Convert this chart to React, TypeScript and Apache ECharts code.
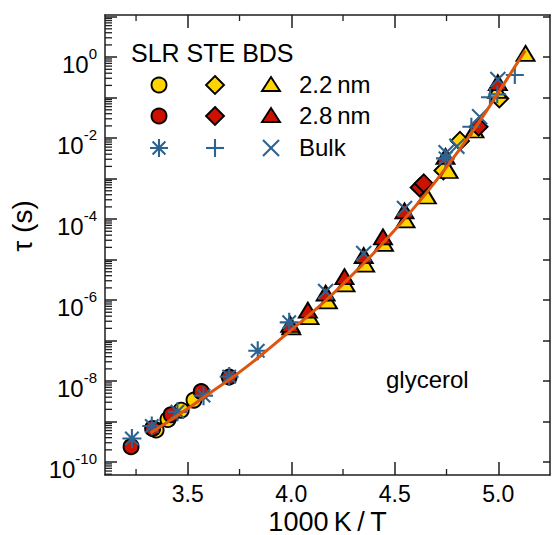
import React, { useEffect, useRef } from 'react';
import * as echarts from 'echarts';

// ---------- data (x = 1000 K / T, values = log10(tau / s)) ----------
const slr22X = [3.347, 3.404, 3.468, 3.53];
const slr22LogTau = [-9.21, -8.95, -8.72, -8.47];

const slr28X = [3.226, 3.33, 3.42, 3.565, 3.70];
const slr28LogTau = [-9.62, -9.17, -8.83, -8.26, -7.90];

const slrBulkX = [3.23, 3.326, 3.45, 3.576, 3.70, 3.838, 3.99, 4.745];
const slrBulkLogTau = [-9.42, -9.11, -8.76, -8.36, -7.89, -7.25, -6.55, -2.50];

const ste22X = [4.735, 4.815, 5.005];
const ste22LogTau = [-2.80, -2.07, -1.02];

const ste28X = [4.62, 4.64, 4.905];
const ste28LogTau = [-3.22, -3.12, -1.72];

const steBulkX = [4.87, 4.96, 4.995, 5.08];
const steBulkLogTau = [-1.72, -0.99, -0.92, -0.44];

const bds22X = [4.0, 4.088, 4.177, 4.262, 4.357, 4.448, 4.552, 4.655, 4.76, 4.885, 4.995, 5.132];
const bds22LogTau = [-6.66, -6.41, -6.02, -5.60, -5.11, -4.60, -4.02, -3.43, -2.80, -1.80, -0.82, 0.09];

const bds28X = [3.995, 4.08, 4.166, 4.257, 4.35, 4.443, 4.547, 4.745, 4.998];
const bds28LogTau = [-6.60, -6.25, -5.83, -5.42, -4.90, -4.44, -3.80, -2.45, -0.63];

const bdsBulkX = [4.166, 4.35, 4.547, 4.748, 4.80, 4.91, 4.998];
const bdsBulkLogTau = [-5.79, -4.85, -3.74, -2.36, -2.20, -1.47, -0.55];

const fitX = [3.32, 3.45, 3.6, 3.75, 3.9, 4.0, 4.1, 4.2, 4.3, 4.4, 4.5, 4.6, 4.7, 4.8, 4.9, 5.0, 5.13];
const fitLogTau = [-9.28, -8.85, -8.32, -7.78, -7.17, -6.74, -6.31, -5.85, -5.35, -4.83, -4.27, -3.68, -3.05, -2.37, -1.66, -0.88, 0.16];

// ---------- axes / texts ----------
const X_MIN = 3.1;
const X_MAX = 5.25;
const xLabelValues = [3.5, 4.0, 4.5, 5.0];
const xMinorTicks = [3.25, 3.75, 4.25, 4.75];
const Y_MIN = -10.32;
const Y_MAX = 1.04;
const yLabelPowers = [-10, -8, -6, -4, -2, 0];
const yDecades = [-10, -9, -8, -7, -6, -5, -4, -3, -2, -1, 0, 1];
const legendHeader = 'SLR STE BDS';
const legendRows = ['2.2\u2009nm', '2.8\u2009nm', 'Bulk'];
const annotation = 'glycerol';
const xTitle = '1000\u2009K\u2009/\u2009T';
const yTitle = '\u03c4 (s)';

const FONT = "'Liberation Sans', Arial, Helvetica, sans-serif";
const FRAME = '#1e1e1e';
const YELLOW = '#ffd400';
const RED = '#cc1100';
const BLUE = '#2d6390';
const ORANGE = '#dc5610';

const ASTERISK = 'path://M5,0L5,10M0,5L10,5M1.46,1.46L8.54,8.54M1.46,8.54L8.54,1.46';
const PLUS = 'path://M5,0L5,10M0,5L10,5';
const CROSS = 'path://M0,0L10,10M0,10L10,0';

const zip = (xs: number[], ys: number[]) => xs.map((x, i) => [x, ys[i]]);

const yMinorTicks: number[] = [];
for (let n = -11; n <= 1; n++) {
  for (let k = 2; k <= 9; k++) {
    const v = n + Math.log10(k);
    if (v > Y_MIN && v < Y_MAX) yMinorTicks.push(v);
  }
}
// minor tick marks: [x, y, kind]  kind 0 = bottom, 1 = top, 2 = left
const minorTickData = [
  ...xMinorTicks.map((v) => [v, Y_MIN, 0]),
  ...xMinorTicks.map((v) => [v, Y_MAX, 1]),
  ...yMinorTicks.map((v) => [X_MIN, v, 2]),
];

function filled(name: string, xs: number[], ys: number[], symbol: string, size: any, color: string) {
  return {
    name,
    type: 'scatter',
    data: zip(xs, ys),
    symbol,
    symbolSize: size,
    itemStyle: { color, borderColor: '#000', borderWidth: 1.9, opacity: 1 },
    emphasis: { disabled: true },
  };
}

function stroked(name: string, xs: number[], ys: number[], symbol: string, size: number) {
  return {
    name,
    type: 'scatter',
    data: zip(xs, ys),
    symbol,
    symbolSize: size,
    itemStyle: { color: 'rgba(0,0,0,0)', borderColor: BLUE, borderWidth: 2.1, opacity: 1 },
    emphasis: { disabled: true },
  };
}

function legendGraphics() {
  const els: any[] = [];
  const cols = [159, 215, 271];
  const rows = [85, 116, 148];
  els.push({
    type: 'text', left: 131, top: 40,
    style: { text: legendHeader, font: `25px ${FONT}`, fill: '#000' },
  });
  const fills = [YELLOW, RED];
  for (let r = 0; r < 2; r++) {
    const cy = rows[r];
    const fill = fills[r];
    els.push({ type: 'circle', shape: { cx: cols[0], cy, r: 7.5 }, style: { fill, stroke: '#000', lineWidth: 1.9 } });
    const dx = cols[1];
    els.push({
      type: 'polygon',
      shape: { points: [[dx, cy - 9], [dx + 9, cy], [dx, cy + 9], [dx - 9, cy]] },
      style: { fill, stroke: '#000', lineWidth: 1.9 },
    });
    const tx = cols[2];
    els.push({
      type: 'polygon',
      shape: { points: [[tx, cy - 8], [tx + 9, cy + 6], [tx - 9, cy + 6]] },
      style: { fill, stroke: '#000', lineWidth: 1.9 },
    });
  }
  const by = rows[2];
  const ls = { stroke: BLUE, lineWidth: 2.1 };
  const ax = cols[0];
  els.push({ type: 'line', shape: { x1: ax, y1: by - 9, x2: ax, y2: by + 9 }, style: ls });
  els.push({ type: 'line', shape: { x1: ax - 9, y1: by, x2: ax + 9, y2: by }, style: ls });
  els.push({ type: 'line', shape: { x1: ax - 6.4, y1: by - 6.4, x2: ax + 6.4, y2: by + 6.4 }, style: ls });
  els.push({ type: 'line', shape: { x1: ax - 6.4, y1: by + 6.4, x2: ax + 6.4, y2: by - 6.4 }, style: ls });
  const px = cols[1];
  els.push({ type: 'line', shape: { x1: px, y1: by - 9, x2: px, y2: by + 9 }, style: ls });
  els.push({ type: 'line', shape: { x1: px - 9, y1: by, x2: px + 9, y2: by }, style: ls });
  const cx = cols[2];
  els.push({ type: 'line', shape: { x1: cx - 8, y1: by - 8, x2: cx + 8, y2: by + 8 }, style: ls });
  els.push({ type: 'line', shape: { x1: cx - 8, y1: by + 8, x2: cx + 8, y2: by - 8 }, style: ls });
  for (let r = 0; r < 3; r++) {
    els.push({
      type: 'text', left: 299, top: rows[r] - 13,
      style: { text: legendRows[r], font: `24px ${FONT}`, fill: '#000' },
    });
  }
  els.push({
    type: 'text', left: 386, top: 367,
    style: { text: annotation, font: `24px ${FONT}`, fill: '#000' },
  });
  els.push({
    type: 'text', x: 22, y: 226, rotation: Math.PI / 2,
    style: { text: yTitle, font: `28px ${FONT}`, fill: '#000', align: 'center', verticalAlign: 'middle', textAlign: 'center', textVerticalAlign: 'middle' },
  });
  return els;
}

export default function App() {
  const ref = useRef<HTMLDivElement>(null);
  useEffect(() => {
    if (!ref.current) return;
    const chart = echarts.init(ref.current, null, { renderer: 'svg' });
    const lineStyle = { color: FRAME, width: 1.5 };
    const xBase: any = {
      type: 'value', min: X_MIN, max: X_MAX,
      splitLine: { show: false }, axisLabel: { show: false },
      axisLine: { show: false }, axisTick: { show: false },
    };
    const yBase: any = {
      type: 'value', min: Y_MIN, max: Y_MAX,
      splitLine: { show: false }, axisLabel: { show: false },
      axisLine: { show: false }, axisTick: { show: false },
    };
    chart.setOption({
      animation: false,
      backgroundColor: '#fff',
      grid: { left: 105, right: 3, top: 15, bottom: 60, containLabel: false, outerBoundsMode: 'none' },
      xAxis: [
        {
          ...xBase, position: 'bottom',
          axisLine: { show: true, onZero: false, lineStyle },
          axisTick: { show: true, inside: true, length: 13, customValues: xLabelValues, lineStyle },
          axisLabel: {
            show: true, customValues: xLabelValues, margin: 8, lineHeight: 22,
            formatter: (v: number) => v.toFixed(1),
            fontSize: 23, fontFamily: FONT, color: '#000',
          },
          name: xTitle, nameLocation: 'middle', nameGap: 33.5, nameMoveOverlap: false,
          nameTextStyle: { fontSize: 27, fontFamily: FONT, color: '#000', lineHeight: 26 },
        },
        {
          ...xBase, position: 'top',
          axisLine: { show: true, onZero: false, lineStyle },
          axisTick: { show: true, inside: true, length: 13, customValues: xLabelValues, lineStyle },
        },
      ],
      yAxis: [
        {
          ...yBase, position: 'left',
          axisLine: { show: true, onZero: false, lineStyle },
          axisTick: { show: true, inside: true, length: 12, customValues: yDecades, lineStyle },
          axisLabel: {
            show: true, customValues: yLabelPowers, margin: 8, padding: [8, 0, 0, 0],
            formatter: (v: number) => `{b|10}{s|${Math.round(v)}}`,
            rich: {
              b: { fontSize: 24, fontFamily: FONT, color: '#000', lineHeight: 30, verticalAlign: 'bottom' },
              s: { fontSize: 15, fontFamily: FONT, color: '#000', verticalAlign: 'top' },
            },
          },
        },
        {
          ...yBase, position: 'right',
          axisLine: { show: true, onZero: false, lineStyle },
          axisTick: { show: true, inside: true, length: 7, customValues: yDecades, lineStyle },
        },
      ],
      series: [
        {
          name: 'minor ticks', type: 'custom', data: minorTickData, silent: true, clip: false, z: 1,
          encode: { x: 0, y: 1 },
          renderItem: (params: any, api: any) => {
            const p = api.coord([api.value(0), api.value(1)]);
            const kind = api.value(2);
            let shape;
            if (kind === 0) shape = { x1: p[0], y1: p[1], x2: p[0], y2: p[1] - 6 };
            else if (kind === 1) shape = { x1: p[0], y1: p[1], x2: p[0], y2: p[1] + 6 };
            else shape = { x1: p[0], y1: p[1], x2: p[0] + 7, y2: p[1] };
            return { type: 'line', shape, style: { stroke: FRAME, lineWidth: 1.3 } };
          },
        },
        filled('SLR 2.2 nm', slr22X, slr22LogTau, 'circle', 15, YELLOW),
        filled('STE 2.2 nm', ste22X, ste22LogTau, 'diamond', 18, YELLOW),
        filled('BDS 2.2 nm', bds22X, bds22LogTau, 'triangle', [18, 15], YELLOW),
        filled('SLR 2.8 nm', slr28X, slr28LogTau, 'circle', 15, RED),
        filled('STE 2.8 nm', ste28X, ste28LogTau, 'diamond', 18, RED),
        filled('BDS 2.8 nm', bds28X, bds28LogTau, 'triangle', [18, 15], RED),
        {
          name: 'fit', type: 'line', data: zip(fitX, fitLogTau), smooth: true,
          symbol: 'none', lineStyle: { color: ORANGE, width: 3 }, emphasis: { disabled: true },
        },
        stroked('SLR Bulk', slrBulkX, slrBulkLogTau, ASTERISK, 19),
        stroked('STE Bulk', steBulkX, steBulkLogTau, PLUS, 18),
        stroked('BDS Bulk', bdsBulkX, bdsBulkLogTau, CROSS, 15),
      ],
      graphic: legendGraphics(),
    });
    return () => chart.dispose();
  }, []);
  return <div ref={ref} style={{ position: 'absolute', left: 0, top: 0, width: 553, height: 535 }} />;
}
